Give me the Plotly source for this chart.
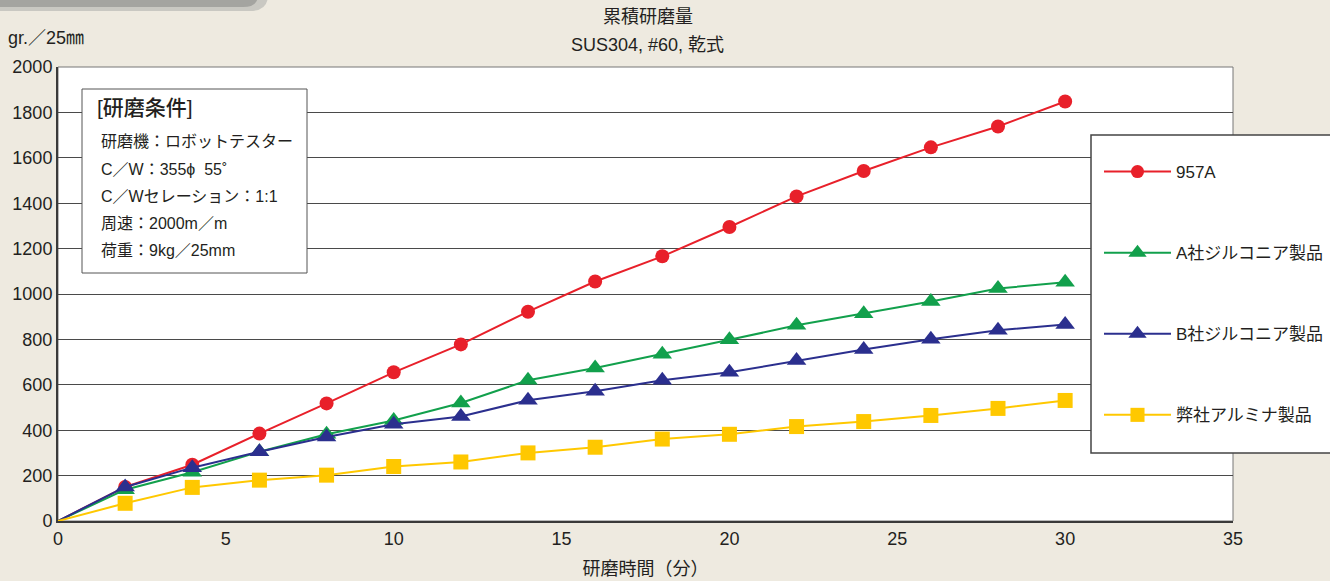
import plotly.graph_objects as go

time_min = [0, 2, 4, 6, 8, 10, 12, 14, 16, 18, 20, 22, 24, 26, 28, 30]
s_957a = [0, 150, 248, 385, 518, 655, 778, 922, 1055, 1166, 1295, 1430, 1542, 1646, 1738, 1848]
s_a_zr = [0, 138, 215, 305, 382, 443, 520, 620, 674, 735, 798, 862, 913, 967, 1024, 1052]
s_b_zr = [0, 150, 235, 305, 370, 426, 460, 532, 572, 620, 655, 707, 756, 801, 840, 866]
s_ours = [0, 78, 148, 180, 202, 240, 260, 300, 325, 361, 382, 416, 438, 465, 496, 531]

names = ["957A", "A社ジルコニア製品", "B社ジルコニア製品", "弊社アルミナ製品"]
colors = ["#E8202A", "#12A04C", "#2B2F8E", "#FFC800"]
symbols = ["circle", "triangle-up", "triangle-up", "square"]
msizes = [14, 17, 17, 15]
series = [s_957a, s_a_zr, s_b_zr, s_ours]

title_lines = ["累積研磨量", "SUS304, #60, 乾式"]
cond_title = "[研磨条件]"
cond_lines = ["研磨機：ロボットテスター", "C／W：355ϕ  55˚", "C／Wセレーション：1:1",
              "周速：2000m／m", "荷重：9kg／25mm"]

FONT = "Liberation Sans, Noto Sans CJK JP, sans-serif"
TXT = "#231F20"
L, R, T, B = 58, 1233, 67, 521
PW, PH = R - L, B - T


def px(x):
    return (x - L) / PW


def py(y):
    return (B - y) / PH


fig = go.Figure()
for name, col, sym, ms, ys in zip(names, colors, symbols, msizes, series):
    fig.add_trace(go.Scatter(
        x=time_min, y=ys, name=name, mode="lines+markers", legendgroup=name,
        line=dict(color=col, width=2),
        marker=dict(color=col, symbol=sym, size=[0] + [ms] * (len(ys) - 1),
                    opacity=1, line=dict(width=0, color=col)),
    ))

fig.update_layout(
    width=1330, height=581,
    margin=dict(l=L, r=1330 - R, t=T, b=581 - B, autoexpand=False),
    paper_bgcolor="#EEEAE0", plot_bgcolor="#FFFFFF",
    font=dict(family=FONT, size=18, color=TXT),
    showlegend=True, hovermode=False,
    legend=dict(xref="paper", yref="paper", x=px(1099), y=py(154), xanchor="left", yanchor="top",
                bgcolor="rgba(0,0,0,0)", borderwidth=0, tracegroupgap=56,
                itemwidth=67, font=dict(size=17, color=TXT), itemclick=False),
    xaxis=dict(range=[0, 35], tickvals=[0, 5, 10, 15, 20, 25, 30, 35], showgrid=False,
               zeroline=False, showline=True, linecolor="#3A3A3A", linewidth=2,
               ticks="", tickfont=dict(size=18, color=TXT), automargin=False,
               title=dict(text="研磨時間（分）", font=dict(size=18, color=TXT), standoff=15)),
    yaxis=dict(range=[0, 2000], dtick=200, showgrid=True, gridcolor="#4A4A4A", gridwidth=1,
               zeroline=False, showline=True, linecolor="#3A3A3A", linewidth=2, automargin=False,
               ticks="", tickfont=dict(size=18, color=TXT)),
)

shapes = []
shapes.append(dict(type="rect", xref="paper", yref="paper", x0=0, x1=1, y0=0, y1=1,
                   line=dict(color="#777777", width=1), layer="below"))
shapes.append(dict(type="path", xref="paper", yref="paper",
                   path=f"M {px(-10)},{py(-5)} L {px(268)},{py(-5)} Q {px(268)},{py(11)} {px(250)},{py(11)} "
                        f"L {px(-10)},{py(11)} Z",
                   fillcolor="#C9C8C2", line=dict(width=0), layer="above"))
shapes.append(dict(type="path", xref="paper", yref="paper",
                   path=f"M {px(-10)},{py(-5)} L {px(258)},{py(-5)} Q {px(258)},{py(7)} {px(243)},{py(7)} "
                        f"L {px(-10)},{py(7)} Z",
                   fillcolor="#A4A4A0", line=dict(width=0), layer="above"))
shapes.append(dict(type="rect", xref="paper", yref="paper",
                   x0=px(82), x1=px(307), y0=py(273), y1=py(89),
                   fillcolor="#FFFFFF", line=dict(color="#555555", width=1), layer="above"))
shapes.append(dict(type="rect", xref="paper", yref="paper",
                   x0=px(1091), x1=px(1345), y0=py(453), y1=py(135),
                   fillcolor="#FFFFFF", line=dict(color="#444444", width=1.5), layer="above"))
fig.update_layout(shapes=shapes)

ann = []
for i, t in enumerate(title_lines):
    ann.append(dict(text=t, xref="paper", yref="paper", x=px(648), y=py(17 + 28 * i),
                    xanchor="center", yanchor="middle", showarrow=False, font=dict(size=18, color=TXT)))
ann.append(dict(text="gr.／25㎜", xref="paper", yref="paper", x=px(6), y=py(38),
                xanchor="left", yanchor="middle", showarrow=False, font=dict(size=18, color=TXT)))
ann.append(dict(text=cond_title, xref="paper", yref="paper", x=px(95), y=py(107),
                xanchor="left", yanchor="middle", showarrow=False,
                font=dict(size=21, color=TXT, weight=500)))
for i, t in enumerate(cond_lines):
    ann.append(dict(text=t, xref="paper", yref="paper", x=px(99),
                    y=py(142 + 27 * i), xanchor="left", yanchor="middle",
                    showarrow=False, font=dict(size=16, color=TXT)))
fig.update_layout(annotations=ann)

fig.write_html("out.html", config={"displayModeBar": False},
               post_script="document.body.style.margin='0';")
